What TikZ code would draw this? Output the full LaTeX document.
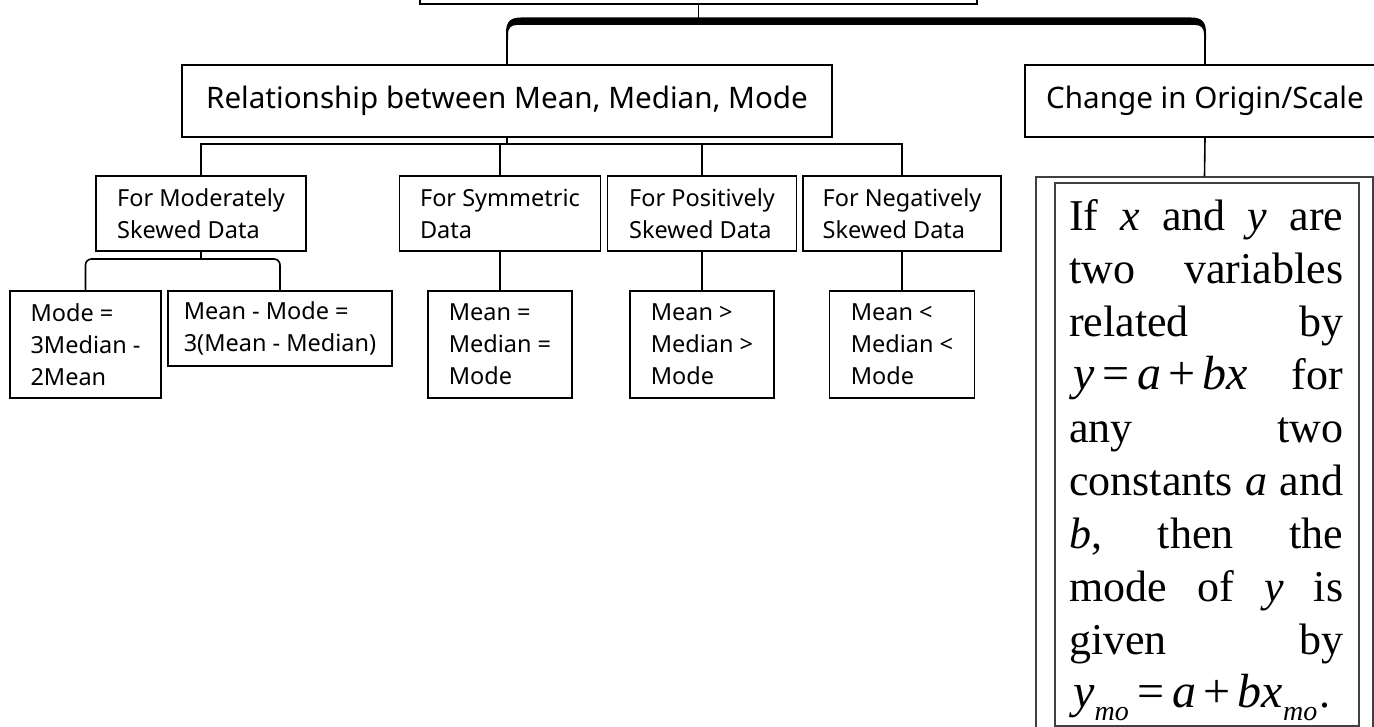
\documentclass[tikz,border=0pt]{standalone}
\usepackage{fontspec}
\setmainfont{Noto Sans}
\newfontfamily\serifface{Liberation Serif}
% italic subscript and enlarged formula letters for the formula box
\newcommand\subsc[1]{\raisebox{-0.3em}{\fontsize{28}{28}\selectfont\itshape #1}}
\newcommand\fm[1]{{\fontsize{48}{53}\selectfont #1}}
\begin{document}
\begin{tikzpicture}[x=1pt,y=-1pt,
  box/.style={draw=black, line width=1.8pt, inner sep=0pt, fill=white},
  small/.style={font=\fontsize{23.5}{32}\selectfont, align=left},
  big/.style={font=\fontsize{29.6}{35}\selectfont},
  conn/.style={draw=black, line width=1.6pt},
  frame/.style={draw=black!75, line width=1.4pt, inner sep=0pt}]
\useasboundingbox (0,0) rectangle (1374,727);
\fill[white] (0,0) rectangle (1374,727);
\clip (0,0) rectangle (1374,727);

% root box (only its lower edge shows)
\node[box, minimum width=557, minimum height=60] (top) at (698.5,-26) {};

% second level
\node[box, big, minimum width=650, minimum height=72] (rel) at (507,101) {Relationship between Mean, Median, Mode};
\node[box, big, minimum width=360, minimum height=72] (chg) at (1205,101) {Change in Origin/Scale};

% third level
\node[box, small, minimum width=210, minimum height=75] (mod) at (201,213.5) {For Moderately\\Skewed Data};
\node[box, small, minimum width=201, minimum height=75] (sym) at (500,213.5) {For Symmetric\\Data};
\node[box, small, minimum width=189, minimum height=75] (pos) at (702,213.5) {For Positively\\Skewed Data};
\node[box, small, minimum width=198, minimum height=75] (neg) at (902,213.5) {For Negatively\\Skewed Data};

% fourth level
\node[box, small, minimum width=151, minimum height=107] (g1) at (85.5,344.5) {Mode =\\3Median -\\2Mean};
\node[box, small, minimum width=224, minimum height=75] (g2) at (280,328.5) {Mean - Mode =\\3(Mean - Median)};
\node[box, small, minimum width=144, minimum height=107] (g3) at (500,344.5) {Mean =\\Median =\\Mode};
\node[box, small, minimum width=144, minimum height=107] (g4) at (702,344.5) {Mean >\\Median >\\Mode};
\node[box, small, minimum width=145, minimum height=107] (g5) at (902,344.5) {Mean <\\Median <\\Mode};

% formula panel
\node[frame, minimum width=337, minimum height=600] (outer) at (1204.5,477) {};
\node[frame, minimum width=304, minimum height=543] (inner) at (1207,454.5) {};
\node[anchor=north west, inner sep=0pt, font=\serifface\fontsize{44}{53}\selectfont] (txt) at (1069,197) {%
  \vbox{\baselineskip=53pt
    \hbox to 274pt{\rule{0pt}{33pt}If\hfill\textit{x}\hfill and\hfill\textit{y}\hfill are}
    \hbox to 274pt{two\hfill variables}
    \hbox to 274pt{related\hfill by}
    \hbox to 274pt{\hspace{4pt}\fm{\textit{y}}\hspace{8pt}\fm{=}\hspace{8pt}\fm{\textit{a}}\hspace{7pt}\fm{+}\hspace{7pt}\fm{\textit{bx}}\hfill for}
    \hbox to 274pt{any\hfill two}
    \hbox to 274pt{constants\hfill\textit{a}\hfill and}
    \hbox to 274pt{\textit{b},\hfill then\hfill the}
    \hbox to 274pt{mode\hfill of\hfill\textit{y}\hfill is}
    \hbox to 274pt{given\hfill by}
    \hbox{\hspace{4pt}\fm{\textit{y}}\subsc{mo}\hspace{9pt}\fm{=}\hspace{8pt}\fm{\textit{a}}\hspace{7pt}\fm{+}\hspace{7pt}\fm{\textit{bx}}\subsc{mo}\hspace{2pt}.}
  }};

% heavy bracket under the root
\draw[conn] (top.south) -- (top.south |- 0,21);
\fill[black] (506,40) -- (506,33) .. controls (506,22) and (510,17.5) .. (521,17.5)
  -- (1191,17.5) .. controls (1202,17.5) and (1206,22) .. (1206,33) -- (1206,40)
  -- (1204,40) -- (1204,34) .. controls (1204,28) and (1201,25) .. (1195,25)
  -- (517,25) .. controls (511,25) and (508,28) .. (508,34) -- (508,40) -- cycle;
\draw[conn] (rel.north) -- (rel.north |- 0,38);
\draw[conn] (chg.north) -- (chg.north |- 0,38);

% connectors below the relationship box
\draw[conn] (rel.south) -- (rel.south |- 0,144);
\draw[conn] (mod.north) |- (neg.north |- 0,144) -- (neg.north);
\draw[conn] (sym.north) -- (sym.north |- 0,144);
\draw[conn] (pos.north) -- (pos.north |- 0,144);

\draw[conn] (mod.south) -- (mod.south |- 0,259);
\draw[conn, rounded corners=6] (g1.north) |- (g2.north |- 0,259) -- (g2.north);
\draw[conn] (sym.south) -- (g3.north);
\draw[conn] (pos.south) -- (g4.north);
\draw[conn] (neg.south) -- (g5.north);

\draw[conn] (chg.south) -- (outer.north);
\end{tikzpicture}
\end{document}
